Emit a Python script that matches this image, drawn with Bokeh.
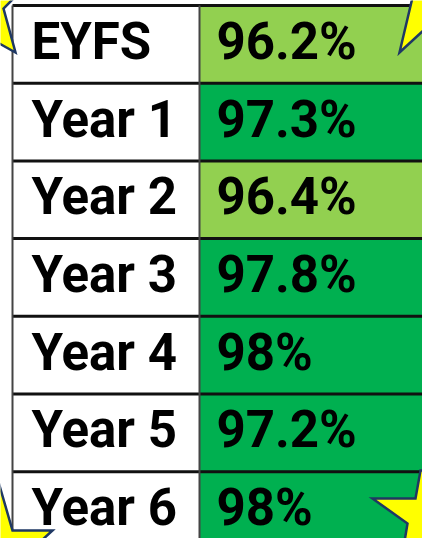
from bokeh.plotting import figure
from bokeh.models import Range1d, ColumnDataSource
from bokeh.core.properties import value
from bokeh.embed import file_html
from bokeh.resources import INLINE

# ---- data ----
groups = ["EYFS", "Year 1", "Year 2", "Year 3", "Year 4", "Year 5", "Year 6"]
attendance = [96.2, 97.3, 96.4, 97.8, 98, 97.2, 98]
value_labels = ["96.2%", "97.3%", "96.4%", "97.8%", "98%", "97.2%", "98%"]

LIGHT = "#92D050"
DARK = "#00B050"

W, H = 422, 538
TOP_PX = 5.0
ROW_PX = 77.7

def yrow(px):
    return (px - TOP_PX) / ROW_PX

p = figure(width=W, height=H,
           x_range=Range1d(0, W),
           y_range=Range1d(yrow(H), yrow(0)),
           output_backend="svg", toolbar_location=None, min_border=0)
p.axis.visible = False
p.grid.visible = False
p.outline_line_color = None
p.background_fill_color = "white"
p.border_fill_color = "white"

n = len(groups)
idx = list(range(n))
src = ColumnDataSource(dict(
    top=[i for i in idx],
    bottom=[i + 1 for i in idx],
    mid=[i + 0.5 for i in idx],
    group=groups,
    label=value_labels,
    color=[LIGHT if a < 97 else DARK for a in attendance],
))

p.quad(left=12, right=199, top="top", bottom="bottom", source=src,
       fill_color="white", line_color=None)
p.quad(left=199, right=440, top="top", bottom="bottom", source=src,
       fill_color="color", line_color=None)

bounds = list(range(n + 1))
p.segment(x0=12, x1=440, y0=bounds, y1=bounds, line_color="#111111", line_width=3)
p.segment(x0=[12, 199], x1=[12, 199], y0=[0, 0], y1=[n, n],
          line_color="#444444", line_width=2)

FONT = value("Roboto")
p.text(x=31, y="mid", text="group", source=src, y_offset=-3,
       text_font=FONT, text_font_style="bold",
       text_font_size="51px", text_baseline="middle", text_align="left",
       text_color="black")
p.text(x=216, y="mid", text="label", source=src, y_offset=-3,
       text_font=FONT, text_font_style="bold",
       text_font_size="51px", text_baseline="middle", text_align="left",
       text_color="black")

stars_x = [
    [-3, 14, 3, 15, -3],
    [412, 399, 425, 425],
    [-3, 12, 52, 40, -3],
    [425, 420, 415, 372, 407, 404, 425],
]
stars_ypx = [
    [-3, -3, 8, 52, 42],
    [-3, 52, 28, -3],
    [478, 530, 530, 541, 541],
    [470, 470, 498, 498, 523, 541, 541],
]
stars_y = [[yrow(v) for v in s] for s in stars_ypx]
p.patches(xs=stars_x, ys=stars_y, fill_color="#FFFF00",
          line_color="#1F3864", line_width=2.5, line_join="miter")

open("out.html", "w").write(file_html(p, INLINE))
